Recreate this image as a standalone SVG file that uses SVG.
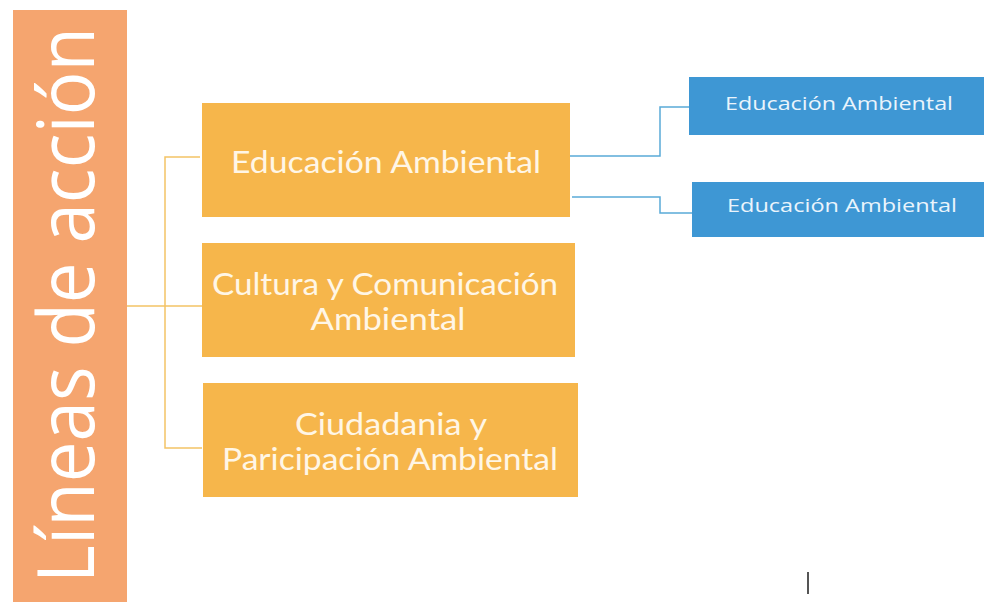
<svg xmlns="http://www.w3.org/2000/svg" width="984" height="602" viewBox="0 0 984 602">
<style>
.bar{fill:#F5A56F}
.ob{fill:#F6B64B}
.bb{fill:#3E97D4}
.ot{font-family:Lato,"Liberation Sans",sans-serif;font-size:31px;fill:#FFF6E6;text-anchor:middle}
.bt{font-family:"Open Sans","Liberation Sans",sans-serif;font-size:18px;fill:#EAF4FC;text-anchor:middle}
.gc{fill:none;stroke:#F4C366;stroke-width:1.5}
.bc{fill:none;stroke:#5AAAD8;stroke-width:1.5}
</style>
<rect width="984" height="602" fill="#FFFFFF"/>
<g id="title">
<rect class="bar" x="13" y="10" width="114" height="592"/>
<text transform="translate(94,305) rotate(-90)" font-family="'Open Sans','Liberation Sans',sans-serif" font-size="78" fill="#FFFFFF" text-anchor="middle" textLength="556" lengthAdjust="spacingAndGlyphs">Líneas de acción</text>
</g>
<g id="connectors">
<path class="gc" d="M127,306 H165 M200,157 H165 V448 H202 M165,306 H202"/>
<path class="bc" d="M570,156 H660 V107 H689"/>
<path class="bc" d="M572,197 H660 V213 H692"/>
</g>
<g id="n1">
<rect class="ob" x="202" y="103" width="368" height="114"/>
<text class="ot" x="386" y="173" textLength="310" lengthAdjust="spacingAndGlyphs">Educación Ambiental</text>
</g>
<g id="n2">
<rect class="ob" x="202" y="243" width="373" height="114"/>
<text class="ot" x="385" y="295" textLength="346" lengthAdjust="spacingAndGlyphs">Cultura y Comunicación</text>
<text class="ot" x="388" y="330" textLength="155" lengthAdjust="spacingAndGlyphs">Ambiental</text>
</g>
<g id="n3">
<rect class="ob" x="203" y="383" width="375" height="114"/>
<text class="ot" x="391" y="435" textLength="192" lengthAdjust="spacingAndGlyphs">Ciudadania y</text>
<text class="ot" x="390" y="470" textLength="336" lengthAdjust="spacingAndGlyphs">Paricipación Ambiental</text>
</g>
<g id="n4">
<rect class="bb" x="689" y="77" width="295" height="58"/>
<text class="bt" x="839" y="110" textLength="228" lengthAdjust="spacingAndGlyphs">Educación Ambiental</text>
</g>
<g id="n5">
<rect class="bb" x="692" y="182" width="292" height="55"/>
<text class="bt" x="842" y="212" textLength="230" lengthAdjust="spacingAndGlyphs">Educación Ambiental</text>
</g>
<line x1="808" y1="572" x2="808" y2="594" stroke="#555555" stroke-width="2"/>
</svg>
